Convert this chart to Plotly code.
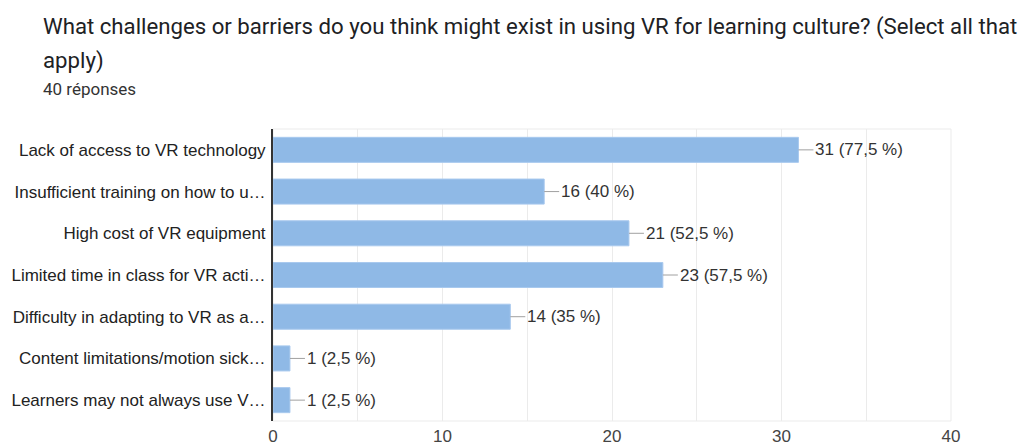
import plotly.graph_objects as go

# Survey responses
title_line1 = "What challenges or barriers do you think might exist in using VR for learning culture? (Select all that"
title_line2 = "apply)"
subtitle = "40 réponses"
total_responses = 40

categories = [
    "Lack of access to VR technology",
    "Insufficient training on how to u…",
    "High cost of VR equipment",
    "Limited time in class for VR acti…",
    "Difficulty in adapting to VR as a…",
    "Content limitations/motion sick…",
    "Learners may not always use V…",
]
counts = [31, 16, 21, 23, 14, 1, 1]
x_ticks = [0, 10, 20, 30, 40]


def fmt_label(n):
    pct = n / total_responses * 100
    pct_txt = f"{pct:.1f}".rstrip("0").rstrip(".").replace(".", ",")
    return f"{n} ({pct_txt} %)"


HEAD_FONT = "Roboto, Arial, sans-serif"
CHART_FONT = "Liberation Sans, Arial, sans-serif"

fig = go.Figure()
fig.add_trace(go.Bar(
    y=categories,
    x=counts,
    orientation="h",
    width=0.6,
    marker=dict(color="#8fb9e6", line=dict(color="#a8c9ee", width=1)),
    hoverinfo="skip",
))

# value labels with a short grey leader line
for cat, n in zip(categories, counts):
    fig.add_annotation(
        x=n, y=cat, xref="x", yref="y",
        text=fmt_label(n),
        showarrow=True, arrowhead=0, arrowwidth=1, arrowcolor="#a0a0a0",
        ax=15, ay=0, xanchor="left", yanchor="middle",
        standoff=0,
        font=dict(family=CHART_FONT, size=17, color="#333333"),
    )

# light frame around the plot area
fig.add_shape(type="rect", xref="paper", yref="paper", x0=0, x1=1, y0=0, y1=1,
              line=dict(color="#ebebeb", width=1), layer="below")

W, H = 1024, 447
L, R, T, B = 273, 73, 129, 26
ph = H - T - B
pw = W - L - R


def paper_y(py):
    return (H - B - py) / ph


def paper_x(px):
    return (px - L) / pw


header = [
    (title_line1, 26, 22.2, "#202124"),
    (title_line2, 60, 22.2, "#202124"),
    (subtitle, 89, 17, "#333333"),
]
for text, py, size, color in header:
    fig.add_annotation(text=text, xref="paper", yref="paper",
                       x=paper_x(41), y=paper_y(py),
                       showarrow=False, xanchor="left", yanchor="middle",
                       font=dict(family=HEAD_FONT, size=size, color=color))

fig.update_layout(
    width=W, height=H,
    margin=dict(l=L, r=R, t=T, b=B, pad=0, autoexpand=False),
    paper_bgcolor="white", plot_bgcolor="white",
    showlegend=False,
    font=dict(family=CHART_FONT, size=17, color="#333333"),
    xaxis=dict(
        range=[0, 40], tickvals=x_ticks, ticktext=[str(t) for t in x_ticks],
        showgrid=True, gridcolor="#ebebeb", gridwidth=1,
        minor=dict(dtick=5, tick0=0, showgrid=True, gridcolor="#ebebeb", gridwidth=1),
        zeroline=False, showline=False, ticks="",
        ticklabelstandoff=3, automargin=False,
        tickfont=dict(family=CHART_FONT, size=17, color="#444444"),
        fixedrange=True,
    ),
    yaxis=dict(
        autorange="reversed", showgrid=False, zeroline=False,
        showline=True, linecolor="#333333", linewidth=2,
        ticks="", ticklabelstandoff=2, automargin=False,
        tickfont=dict(family=CHART_FONT, size=17, color="#222222"),
        fixedrange=True,
    ),
)

fig.write_html("out.html", config={"displayModeBar": False})
